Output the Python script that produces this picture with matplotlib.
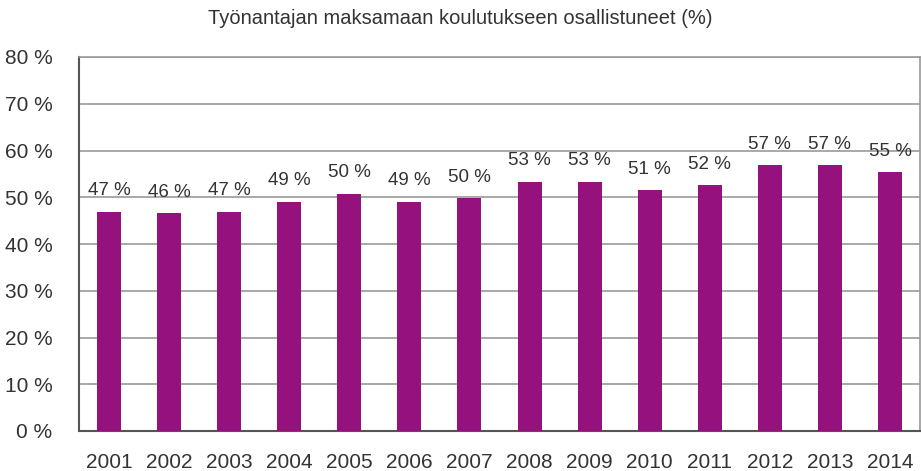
import numpy as np
import matplotlib.pyplot as plt

plt.rcParams['font.family'] = ['Liberation Sans', 'DejaVu Sans']

years = ['2001', '2002', '2003', '2004', '2005', '2006', '2007',
         '2008', '2009', '2010', '2011', '2012', '2013', '2014']
values = [46.9, 46.6, 46.9, 49.0, 50.8, 49.0, 49.8,
          53.3, 53.3, 51.5, 52.6, 56.8, 56.8, 55.3]
labels = ['47 %', '46 %', '47 %', '49 %', '50 %', '49 %', '50 %',
          '53 %', '53 %', '51 %', '52 %', '57 %', '57 %', '55 %']
yticks = [0, 10, 20, 30, 40, 50, 60, 70, 80]

bar_color = '#95127e'
text_color = '#333333'

fig = plt.figure(figsize=(9.21, 4.71), dpi=100)
ax = fig.add_axes([79 / 921, 40 / 471, (920 - 79) / 921, (431 - 57) / 471])

x = np.arange(len(years))
ax.bar(x, values, width=0.4, color=bar_color, zorder=3)
for xi, v, lbl in zip(x, values, labels):
    ax.annotate(lbl, (xi, v), xytext=(0, 9), textcoords='offset points',
                ha='center', va='bottom', fontsize=13.5, color=text_color, zorder=4)

ax.set_xlim(-0.5, len(years) - 0.5)
ax.set_ylim(0, 80)
ax.set_yticks(yticks)
ax.set_yticklabels([f'{t} %' for t in yticks])
ax.set_xticks(x)
ax.set_xticklabels(years)
ax.tick_params(axis='both', length=0, labelsize=15, colors=text_color)
ax.tick_params(axis='y', pad=19)
ax.tick_params(axis='x', pad=16)
ax.grid(axis='y', color='#9a9a9a', linewidth=1.2, zorder=0)

for side in ['top', 'right']:
    ax.spines[side].set_color('#9a9a9a')
    ax.spines[side].set_linewidth(1.2)
for side in ['left', 'bottom']:
    ax.spines[side].set_color('#555555')
    ax.spines[side].set_linewidth(1.5)

fig.suptitle('Työnantajan maksamaan koulutukseen osallistuneet (%)',
             y=0.98, fontsize=14.5, color=text_color)

fig.savefig('out.png', dpi=100)
